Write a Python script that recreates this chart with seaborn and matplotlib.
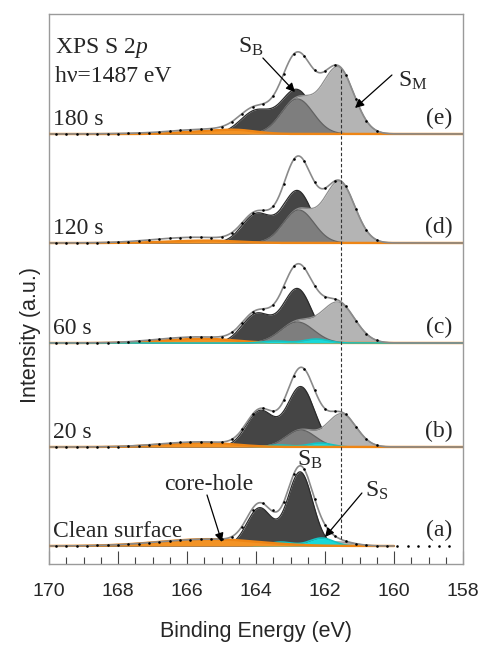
import numpy as np
import matplotlib
matplotlib.use("Agg")
import matplotlib.pyplot as plt
from matplotlib.ticker import MultipleLocator
import seaborn as sns

# ---------------- data (panels listed bottom to top) ----------------
panel_tags = ["(a)", "(b)", "(c)", "(d)", "(e)"]
exposure_labels = ["Clean surface", "20 s", "60 s", "120 s", "180 s"]

# S_B (bulk) doublet: 2p3/2 binding energy, 2p3/2 and 2p1/2 heights, FWHM
bulk_be = [162.72, 162.70, 162.80, 162.80, 162.82]
bulk_h32 = [74, 60, 54, 52, 44]
bulk_h12 = [38, 36, 29, 29, 23]
bulk_fwhm = [0.85, 0.94, 0.99, 0.99, 1.06]

# S_M doublet
metal_be = [161.60, 161.52, 161.62, 161.58, 161.62]
metal_h32 = [4, 33, 40, 61, 66]
metal_h12 = [2, 17, 21, 33, 35]
metal_fwhm = [1.06, 1.00, 1.13, 1.04, 1.08]

# S_S (surface) doublet
surface_be = [162.10, 162.14, 162.25, 162.20, 162.20]
surface_h32 = [8, 4, 4, 0, 0]
surface_h12 = [4, 2, 2, 0, 0]
surface_fwhm = [0.82, 0.82, 0.82, 0.82, 0.82]

# core-hole satellite doublet
corehole_be = [165.0, 165.3, 165.3, 165.2, 164.6]
corehole_h32 = [5, 3.5, 3.5, 2, 4]
corehole_h12 = [2.5, 1.75, 1.75, 1, 2]
corehole_fwhm = [3.06, 1.9, 1.9, 1.9, 1.4]

# inelastic tail, part of the fit envelope only
tail_be = [166.0, 166.0, 166.0, 166.0, 166.0]
tail_h = [0, 1.0, 2.0, 3.5, 2.0]
tail_fwhm = [2.8, 2.8, 2.8, 2.8, 2.8]

# measured spectra (0.3 eV steps from 169.8 eV)
meas_clean = [0.1, 0.1, 0.2, 0.4, 0.6, 0.9, 1.3, 1.9, 2.5, 3.3, 4.2, 5.0, 5.8, 6.4,
              6.8, 6.8, 6.9, 9.0, 19, 36, 43, 35.6, 44, 72, 77, 47, 21, 9.7, 4.9,
              2.4, 0.8, 0.2, 0, 0, 0, 0, 0, 0, 0]
meas_20s = [0, 0, 0, 0.1, 0.2, 0.3, 0.5, 1.0, 1.5, 2.3, 3.1, 3.8, 4.6, 5.2, 5.4, 5.3,
            5.0, 7.8, 17.8, 32.8, 38.8, 36.1, 46.6, 71.5, 78.1, 57.0, 38.5, 35.7,
            32.6, 20.3, 7.8, 1.9]
meas_60s = [0, 0, 0.1, 0.1, 0.2, 0.5, 0.8, 1.3, 2.0, 2.9, 3.8, 4.7, 5.5, 6.0, 6.1,
            5.8, 6.5, 10.6, 20.4, 30.8, 34.1, 38.3, 56.4, 76.6, 75.2, 57.5, 46.3,
            43.8, 36.7, 22.3, 9.3, 2.6]
meas_120s = [0, 0.05, 0.1, 0.2, 0.35, 0.6, 1.0, 1.5, 2.3, 3.1, 4.0, 4.7, 5.4, 5.7,
             5.7, 5.5, 6.0, 10.4, 20.3, 30.5, 32.6, 36.7, 58.7, 83.8, 81.7, 61.0,
             54.8, 62.4, 56.6, 33.8, 12.9, 3.1]
meas_180s = [0, 0, 0.05, 0.1, 0.2, 0.3, 0.5, 0.7, 1.05, 1.5, 2.1, 2.8, 3.6, 4.3, 4.8,
             5.5, 7.4, 12.3, 20.4, 27.2, 30.1, 38.3, 60.0, 80.2, 77.8, 63.9, 62.9,
             69.0, 59.4, 34.7, 13.3, 3.4]
measured = [meas_clean, meas_20s, meas_60s, meas_120s, meas_180s]

SO_SPLIT = 1.18          # S 2p spin-orbit splitting (eV)
SM_MARK_BE = 161.55      # guide line through the S_M 2p3/2 position

# ---------------- layout / style ----------------
OFFSETS = [18, 117, 221, 321, 430]
FIT_LOW = [160.0, 158.0, 158.0, 158.0, 158.0]
C_DARK, C_DARK_EDGE = "#454545", "#2b2b2b"
C_LIGHT, C_LIGHT_EDGE = "#b4b4b4", "#8f8f8f"
C_MED, C_MED_EDGE = "#7e7e7e", "#626262"
C_CYAN, C_CYAN_EDGE = "#19d9d9", "#12c4c4"
C_ORANGE, C_ORANGE_EDGE = "#f39325", "#ee8515"
SERIF = ["Liberation Serif", "DejaVu Serif"]
TXT = 17

sns.set_theme(style="white")
plt.rcParams["font.family"] = ["Liberation Sans", "DejaVu Sans"]
plt.rcParams["mathtext.fontset"] = "custom"
plt.rcParams["mathtext.rm"] = "Liberation Serif"
plt.rcParams["mathtext.it"] = "Liberation Serif:italic"


def doublet(e, be, h32, h12, fwhm):
    s2 = 2.0 * (fwhm / 2.3548) ** 2
    return h32 * np.exp(-(e - be) ** 2 / s2) + h12 * np.exp(-(e - be - SO_SPLIT) ** 2 / s2)


fig = plt.figure(figsize=(4.82, 6.45), dpi=100)
ax = fig.add_axes([49 / 482, 81 / 645, 414 / 482, 550 / 645])

env_cache = {}
for i in range(5):
    off = OFFSETS[i]
    e = np.linspace(FIT_LOW[i], 170.0, 1201)
    bulk = doublet(e, bulk_be[i], bulk_h32[i], bulk_h12[i], bulk_fwhm[i])
    metal = doublet(e, metal_be[i], metal_h32[i], metal_h12[i], metal_fwhm[i])
    metal12 = doublet(e, metal_be[i], 0, metal_h12[i], metal_fwhm[i])
    surf = doublet(e, surface_be[i], surface_h32[i], surface_h12[i], surface_fwhm[i])
    core = doublet(e, corehole_be[i], corehole_h32[i], corehole_h12[i], corehole_fwhm[i])
    tail = tail_h[i] * np.exp(-(e - tail_be[i]) ** 2 / (2 * (tail_fwhm[i] / 2.3548) ** 2))
    env = bulk + metal + surf + core + tail
    env_cache[i] = (e, env, metal)

    surf_on_top = panel_tags[i] == "(c)"
    layers = [(bulk, C_DARK, C_DARK_EDGE, 2, 0.9, False),
              (metal, C_LIGHT, C_LIGHT_EDGE, 3, 0.9, False),
              (metal12, C_MED, C_MED_EDGE, 4, 0.9, False)]
    if max(surface_h32[i], surface_h12[i]) > 0:
        layers.append((surf, C_CYAN, C_CYAN_EDGE, 7 if surf_on_top else 5, 1.1,
                       not surf_on_top))
    layers.append((core, C_ORANGE, C_ORANGE_EDGE, 6, 1.7, False))
    for comp, fc, ec, z, lw, clip_edge in layers:
        ax.fill_between(e, off, off + comp, color=fc, lw=0, zorder=z)
        edge = off + comp
        if clip_edge:
            edge = np.ma.masked_where(comp < 0.3, edge)
        ax.plot(e, edge, color=ec, lw=lw, zorder=z + 0.1)

    sns.lineplot(x=e, y=off + env, ax=ax, color="#8a8a8a", lw=1.2,
                 estimator=None, sort=False, zorder=8)

    pts = np.round(169.8 - 0.3 * np.arange(len(measured[i])), 1)
    sns.scatterplot(x=pts, y=off + np.asarray(measured[i]), ax=ax, s=3.5,
                    color="black", linewidth=0, zorder=9)

    ax.text(169.88, off + 9, exposure_labels[i], family=SERIF, fontsize=TXT,
            ha="left", va="baseline", zorder=12)
    ax.text(158.3, off + 9.5, panel_tags[i], family=SERIF, fontsize=TXT,
            ha="right", va="baseline", zorder=12)

# dashed guide line from the clean-surface envelope up to the S_M peak at 180 s
e0, env0, _ = env_cache[0]
e4, _, metal4 = env_cache[4]
y_bottom = OFFSETS[0] + np.interp(SM_MARK_BE, e0, env0)
y_top = OFFSETS[4] + np.interp(SM_MARK_BE, e4, metal4)
ax.plot([SM_MARK_BE, SM_MARK_BE], [y_bottom, y_top], color="#333333", lw=0.8,
        ls=(0, (3, 2)), zorder=11)

# header text
ax.text(169.83, 511, r"XPS S 2$\mathit{p}$", family=SERIF, fontsize=TXT,
        ha="left", va="baseline")
ax.text(169.83, 482, "h\u03bd=1487 eV", family=SERIF, fontsize=TXT,
        ha="left", va="baseline")

arrow = dict(arrowstyle="-|>", color="black", lw=0.9, mutation_scale=13,
             shrinkA=0, shrinkB=0)
# 180 s annotations
ax.annotate("", xy=(162.87, 472), xytext=(163.80, 506), arrowprops=arrow, zorder=12)
ax.text(164.52, 511, r"S$_{\mathrm{B}}$", family=SERIF, fontsize=TXT,
        ha="left", va="baseline", zorder=12)
ax.annotate("", xy=(161.13, 456), xytext=(160.06, 489), arrowprops=arrow, zorder=12)
ax.text(159.88, 477, r"S$_{\mathrm{M}}$", family=SERIF, fontsize=TXT,
        ha="left", va="baseline", zorder=12)
# clean-surface annotations
ax.text(162.81, 98, r"S$_{\mathrm{B}}$", family=SERIF, fontsize=TXT,
        ha="left", va="baseline", zorder=12)
ax.text(166.67, 74, "core-hole", family=SERIF, fontsize=TXT,
        ha="left", va="baseline", zorder=12)
ax.annotate("", xy=(164.99, 22), xytext=(165.42, 69), arrowprops=arrow, zorder=12)
ax.text(160.84, 67, r"S$_{\mathrm{S}}$", family=SERIF, fontsize=TXT,
        ha="left", va="baseline", zorder=12)
ax.annotate("", xy=(162.0, 27), xytext=(160.93, 71), arrowprops=arrow, zorder=12)

# axes
ax.set_xlim(170, 158)
ax.set_ylim(0, 550)
ax.set_yticks([])
ax.xaxis.set_major_locator(MultipleLocator(2))
ax.xaxis.set_minor_locator(MultipleLocator(0.5))
ax.tick_params(axis="x", which="major", direction="in", length=9.5, width=0.8,
               color="#444444", pad=14, labelsize=14, bottom=True, top=False)
ax.tick_params(axis="x", which="minor", direction="in", length=4.8, width=0.8,
               color="#444444", bottom=True, top=False)
for sp in ax.spines.values():
    sp.set_color("#9a9a9a")
    sp.set_linewidth(1.0)
ax.set_xlabel("Binding Energy (eV)", fontsize=15.5, labelpad=15)
ax.set_ylabel("Intensity (a.u.)", fontsize=15.5)
ax.yaxis.set_label_coords(-0.02, 0.416)

fig.savefig("out.png", dpi=100)
